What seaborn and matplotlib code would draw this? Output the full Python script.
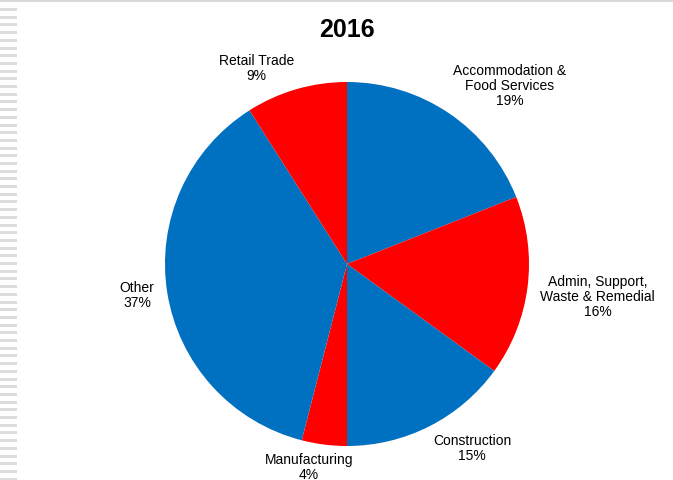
import numpy as np
import matplotlib
matplotlib.use("Agg")
import matplotlib.pyplot as plt
import seaborn as sns
from matplotlib.patches import Rectangle

sns.set_theme(style="white")
plt.rcParams["font.family"] = ["Liberation Sans", "DejaVu Sans"]

# data
categories = ["Accommodation &\nFood Services", "Admin, Support,\nWaste & Remedial",
              "Construction", "Manufacturing", "Other", "Retail Trade"]
shares = [19, 16, 15, 4, 37, 9]
colors = ["#0070C0", "#FF0000", "#0070C0", "#FF0000", "#0070C0", "#FF0000"]
title = "2016"

W, H = 673, 481
fig = plt.figure(figsize=(W / 100, H / 100), dpi=100)
fig.patch.set_facecolor("white")

# frame decoration: top rule and dashed left edge
fig.add_artist(Rectangle((0, 1 - 3 / H), 1, 3 / H, transform=fig.transFigure,
                         color="#d9d9d9", lw=0))
y = 9
while y < H:
    fig.add_artist(Rectangle((0, 1 - (y + 3) / H), 17 / W, 3 / H,
                             transform=fig.transFigure, color="#dcdcdc", lw=0))
    y += 7.7

cx, cy, r = 347, 265, 182
ax = fig.add_axes([(cx - r) / W, (H - cy - r) / H, 2 * r / W, 2 * r / H])
wedges, _ = ax.pie(shares, colors=colors, startangle=90, counterclock=False,
                   radius=1, wedgeprops=dict(linewidth=0))
ax.set_xlim(-1, 1)
ax.set_ylim(-1, 1)
ax.axis("off")

for w, name, val in zip(wedges, categories, shares):
    ang = np.deg2rad((w.theta1 + w.theta2) / 2)
    c, s = np.cos(ang), np.sin(ang)
    ha = "left" if c > 0.2 else ("right" if c < -0.2 else "center")
    va = "bottom" if s > 0.3 else ("top" if s < -0.3 else "center")
    d = 1.04 if abs(s) > 0.3 else 1.07
    dx = -0.08 if ha == "center" else 0
    dy = -0.04 if (va == "center" and c > 0) else 0
    ax.text(d * c + dx, d * s + dy,
            f"{name}\n{val}%", ha=ha, va=va,
            multialignment="center", fontsize=10, color="black",
            clip_on=False, linespacing=1.1)

fig.text(cx / W, 1 - 30 / H, title, ha="center", va="center",
         fontsize=18, fontweight="bold", color="black")

fig.savefig("out.png", dpi=100, facecolor="white")
